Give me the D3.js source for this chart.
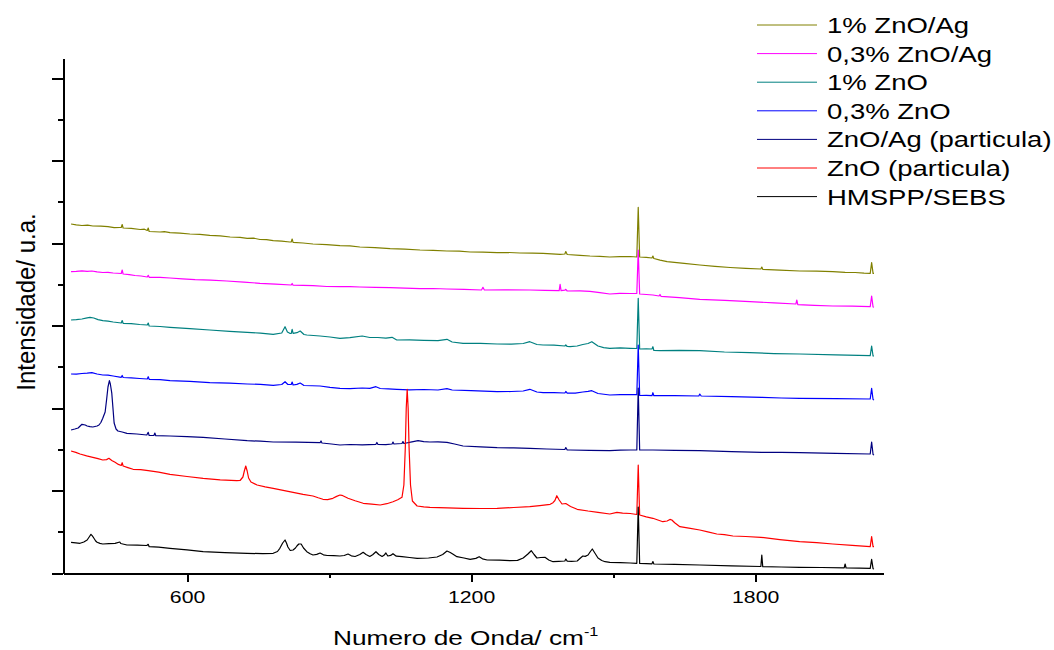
<!DOCTYPE html>
<html>
<head>
<meta charset="utf-8">
<script src="https://cdn.jsdelivr.net/npm/d3@7"></script>
<style>
    body { margin: 0; background: #fff; }
    svg { display: block; }
    .axis path, .axis line { stroke: #000; stroke-width: 2; shape-rendering: crispEdges; }
    .axis text { font-family: "Liberation Sans", Arial, sans-serif; font-size: 17px; fill: #000; }
    .spectrum { fill: none; stroke-width: 1.2; stroke-linejoin: round; }
    .label { font-family: "Liberation Sans", Arial, sans-serif; font-size: 22px; fill: #000; }
</style>
</head>
<body>
<svg id="chart" width="1054" height="650"></svg>
<script>
// Raman spectra, [wavenumber cm-1, intensity a.u.]
var olive = [[355,349],[366,348.2],[378,347.5],[390,347.8],[401,347],[418,346.8],[433,346.3],[446,345.4],[458,345.5],[461,345.5],[463,348.5],[465,345],[482,344.6],[501,343.5],[510,343.8],[516,342.5],[518,345],[520,341.5],
    [543,341],[552,341.4],[564,340.3],[585,339.8],[606,339],[627,338.6],[648,337.7],[670,337.2],[691,336],[712,335.6],[727,334.7],[740,334.9],[754,333.5],[768,333.3],[782,332.3],[800,331.8],[817,331],[820,331],[822,334],[824,330.7],
    [845,330],[866,329],[895,328.4],[923,327.3],[944,327.1],[965,326],[997,325.4],[1029,324.3],[1060,323.8],[1092,323],[1120,322.7],[1149,322],[1175,321.8],[1198,321],[1225,320.9],[1255,320.3],[1280,320.5],[1303,320],[1330,319.9],
    [1352,319.7],[1370,319.2],[1388,318.7],[1398,319],[1400,321.5],[1403,318.5],[1430,317.6],[1451,317],[1472,316.7],[1493,316],[1514,316.3],[1536,316.5],[1550,316],[1553,365.7],[1556,316],[1570,315.6],[1582,315],[1584,317],[1586,314.5],
    [1599,312.8],[1614,311.3],[1650,309.6],[1683,308],[1715,306.6],[1747,305.5],[1780,304.6],[1812,304],[1814,306],[1816,303.7],[1852,302.8],[1894,302],[1930,301.8],[1964,301.3],[1990,300.6],[2011,300.5],[2030,299.9],[2043,299.7],[2046,310.3],[2049,299.7],[2051,299.7]];

var magenta = [[355,301.3],[366,301.6],[378,302.2],[389,301.7],[399,302],[410,301.2],[422,300.5],[433,300.6],[444,300],[461,299.5],[463,303],[465,299],[478,298.4],[490,297.5],[503,297],[516,296],[518,297.7],[520,295.7],
    [543,295.6],[564,295],[590,294.2],[617,293.3],[650,292.8],[684,292],[720,290.9],[754,289.7],[787,288.9],[820,288],[822,289.5],[824,287.8],[845,287.7],[866,287.3],[895,286.5],[923,286.3],[944,286.4],[965,286],
    [997,285.6],[1029,285.3],[1060,284.9],[1092,284.3],[1120,284.5],[1149,284],[1185,283.6],[1222,283],[1225,285.7],[1228,283],[1270,283.2],[1324,283],[1356,282.6],[1386,282.3],[1388,288.7],[1390,282.3],[1398,282.8],[1400,283.7],[1403,282],
    [1430,282.1],[1451,281.7],[1472,280.3],[1493,279],[1514,279.7],[1536,279.5],[1550,279.5],[1553,323],[1556,279],[1584,278],[1597,277],[1599,278.5],[1601,276.7],[1640,275.4],[1683,273.7],[1736,272.6],[1789,271.3],[1840,270.2],
    [1886,269],[1888,273],[1890,268.3],[1925,267.6],[1964,267],[2005,266.8],[2043,266.3],[2046,277],[2049,266],[2051,265.7]];

var teal = [[355,253],[366,253.4],[378,254],[389,255.2],[395,255.7],[403,255],[412,253.4],[422,252.3],[433,251.8],[444,251],[461,250],[463,252.5],[465,249.7],[482,249.3],[500,248.5],[516,248],[518,250],[520,247],
    [543,246.5],[564,245.7],[606,244.4],[648,243],[690,241.6],[727,240.7],[755,239.8],[782,238.7],[800,240],[807,246.3],[812,241],[817,239.7],[820,239.5],[822,243.7],[824,239.7],[832,240.3],[839,242],[847,238.5],[853,238],
    [881,237],[902,236],[923,234.7],[944,235.3],[970,237],[986,235.5],[1003,235.5],[1020,234.8],[1033,235.7],[1043,233],[1070,233.2],[1100,232.7],[1130,232.3],[1149,233.7],[1160,231],[1183,229.7],[1220,229.6],[1255,229],
    [1285,228.9],[1310,229.5],[1324,231.3],[1339,228.5],[1352,228],[1375,227.8],[1398,227],[1400,228],[1403,226.5],[1409,226.3],[1424,227],[1436,228.5],[1447,229.5],[1455,231.3],[1468,227],[1480,225.4],[1493,224.7],
    [1515,225.1],[1536,224.7],[1550,224.5],[1553,274.7],[1556,224],[1570,224.2],[1582,224],[1584,226.3],[1586,222.5],[1599,222.3],[1640,222.6],[1683,222.3],[1735,221],[1789,220.3],[1840,219.4],[1894,219],[1970,218.2],
    [2043,217.3],[2046,227],[2049,217],[2051,217]];

var blue = [[355,199],[366,198.8],[378,199.5],[389,199.8],[399,200.3],[410,199],[422,198],[433,197.8],[444,197],[461,195.7],[463,197.5],[465,195.5],[482,195.2],[500,194.5],[516,194],[518,196.3],[520,193.7],
    [543,193.3],[564,192.3],[606,191.6],[648,190.3],[690,189.8],[727,189],[755,188.6],[782,187.7],[800,188.5],[807,191.3],[813,188.5],[820,188.5],[822,191],[824,188],[832,188.6],[839,190],[847,187.5],[881,187],
    [902,185.6],[923,184.7],[944,184.3],[970,185],[986,184.6],[999,186.3],[1008,184.5],[1025,184.2],[1043,183.7],[1070,183.1],[1100,183.5],[1130,183],[1149,184.3],[1160,183],[1200,182.3],[1255,181.3],[1285,181.5],
    [1310,182],[1324,183.7],[1339,181],[1352,180.3],[1375,180.4],[1398,180],[1400,181.5],[1403,179.8],[1420,179.8],[1436,181],[1447,181.7],[1455,182.3],[1468,179.5],[1493,178],[1515,178.4],[1536,178.5],[1550,178.3],
    [1553,228],[1556,177.5],[1570,177.7],[1582,177.3],[1584,180.3],[1586,177.3],[1630,177.4],[1681,177],[1683,179],[1686,177],[1750,176.3],[1814,175.7],[1855,175],[1894,174.7],[1970,174.4],[2043,174],[2046,184.7],
    [2049,173.5],[2051,173]];

var navy = [[355,143],[363,144],[370,145],[378,148.7],[385,148],[389,147],[395,146.3],[401,146],[410,147],[414,148],[418,150.5],[422,154.7],[427,161],[430,173],[433,186],[436,192.3],[438,189],[441,180],[444,162],
    [446,150],[450,144],[454,142],[463,141],[473,139.7],[494,139],[515,138],[518,140.7],[520,137.5],[530,137.5],[532,140],[534,137.3],[564,137],[600,136.4],[634,135.7],[680,134],[727,132.3],[755,131.8],[782,131],
    [830,130.8],[881,130.3],[883,132],[885,130],[905,129],[923,128],[944,128.5],[970,128.2],[999,128.7],[1001,130.5],[1003,128.7],[1020,128.4],[1033,129],[1035,131],[1037,129],[1054,129.5],[1056,131.5],[1058,129.5],
    [1075,131.2],[1088,132.3],[1100,131.4],[1113,131],[1130,131.1],[1149,130.7],[1165,129],[1183,127],[1220,126.2],[1255,125.3],[1290,125.1],[1324,124.7],[1360,124],[1398,123.5],[1400,125.5],[1403,123],[1409,123],
    [1450,122.6],[1493,122.3],[1515,122.8],[1536,123],[1550,123],[1553,185],[1556,123],[1584,123],[1630,122.6],[1683,122.3],[1750,121.4],[1814,120.7],[1855,120.6],[1894,120.3],[1970,119.6],[2043,119],[2046,131],
    [2049,118.5],[2051,118]];

var red = [[355,122],[365,120.6],[374,119],[388,117.2],[401,115.7],[412,114.4],[422,113],[430,113.4],[435,114.7],[441,112.5],[448,110.7],[455,108.6],[461,107.5],[463,110.3],[465,107],[475,105.4],[486,103.7],[502,103.3],
    [518,102.3],[540,100.8],[564,98.7],[600,96.5],[634,94.7],[670,93.2],[705,92.3],[712,92.5],[718,96],[721,102],[724,107],[727,102],[730,95],[735,91],[748,88],[765,86.2],[782,84.7],[803,82.6],[824,80.7],[845,78.6],
    [866,77],[877,75.2],[887,73.7],[897,73.4],[908,74.7],[916,76.6],[923,78],[927,77.7],[940,74.8],[955,72.3],[972,69.7],[990,68.8],[1008,68],[1022,69.3],[1035,71.3],[1045,73.2],[1054,75.7],[1058,88],[1061,125],
    [1063,165],[1065,183.7],[1067,165],[1069,125],[1072,88],[1076,72],[1086,67],[1100,66.2],[1113,65.7],[1150,65.2],[1183,64.7],[1220,64.5],[1255,64.7],[1290,65.5],[1324,66.3],[1345,67.4],[1367,68.7],[1373,70.3],
    [1377,72.5],[1381,77.3],[1386,73],[1392,69],[1400,69.5],[1410,66.5],[1424,63.7],[1447,62],[1468,60.7],[1493,59],[1508,60.7],[1520,59.8],[1536,59.5],[1550,58.5],[1553,108],[1556,58],[1570,56.2],[1584,54.7],
    [1605,51.3],[1614,52],[1620,53.6],[1624,53],[1630,50.3],[1641,46.3],[1660,44.8],[1683,43],[1700,41.2],[1719,39],[1735,38.3],[1753,37],[1780,36.5],[1812,35.7],[1852,33.4],[1894,31.3],[1930,30.3],[1964,29],
    [2005,27.6],[2043,26.3],[2046,36.3],[2049,26.3],[2051,26.3]];

var black = [[355,30.7],[365,30.2],[374,29.7],[382,31],[389,33],[394,36.5],[397,38.7],[400,37.2],[403,35],[407,32],[410,30.7],[416,29.6],[422,29],[435,29.4],[448,29.7],[458,31],[460,29.5],[473,28],[495,27.8],
    [515,27.5],[518,28.7],[520,26.3],[540,25.8],[564,24.7],[600,23.1],[634,21.3],[680,20.4],[727,19.7],[760,19.3],[782,19.7],[791,21.5],[796,24.7],[802,30],[807,33],[810,30],[813,26],[818,22.5],[824,23],[829,25],
    [832,27],[836,29],[841,29],[846,25],[853,21.3],[860,19.2],[866,18],[874,18.6],[881,20],[888,18.2],[896,17.5],[910,17.3],[923,17],[932,17.5],[940,19],[947,17.2],[955,16.5],[965,18.5],[972,20.7],[978,18.5],
    [986,16.5],[992,18.3],[999,21.3],[1005,18.5],[1012,16.5],[1016,17.7],[1020,20],[1024,17],[1030,17.6],[1035,19.3],[1042,16.8],[1054,16.3],[1070,15.5],[1086,14.7],[1110,15],[1128,16],[1140,18.5],[1149,22],
    [1156,20.5],[1162,18.8],[1170,16.3],[1185,15],[1198,13.7],[1210,14.6],[1217,16.3],[1224,14.2],[1234,13],[1260,12.8],[1282,12.3],[1298,12.6],[1310,15],[1320,19],[1327,22.3],[1333,18.5],[1339,15],[1347,15.5],
    [1356,15.7],[1364,13],[1373,11.3],[1385,11.6],[1398,12],[1400,14],[1403,11.8],[1412,11.6],[1424,12],[1431,15],[1436,17],[1441,16.6],[1447,18],[1452,21.5],[1456,24],[1462,19.5],[1468,15],[1476,12.5],[1483,11.3],
    [1493,10.7],[1515,10.3],[1536,10],[1550,9.7],[1553,66],[1556,9.5],[1570,9.4],[1582,9.2],[1584,11.5],[1586,9],[1630,8.6],[1683,8],[1750,7.1],[1812,6.5],[1814,18],[1816,6.3],[1855,6],[1894,5.7],[1940,5.5],
    [1988,5.2],[1990,9],[1992,5],[2020,4.9],[2043,4.7],[2046,13.7],[2049,4.3],[2051,4]];

var seriesNames = ['1% ZnO/Ag', '0,3% ZnO/Ag', '1% ZnO', '0,3% ZnO', 'ZnO/Ag (particula)', 'ZnO (particula)', 'HMSPP/SEBS'];
var seriesColors = ['#808000', '#ff00ff', '#008080', '#0000ff', '#000080', '#ff0000', '#000000'];
var seriesData = [olive, magenta, teal, blue, navy, red, black];

var xMajorTicks = [600, 1200, 1800];
var xMinorTicks = [900, 1500];
var yMajorTicks = [0, 82.5, 165, 247.5, 330, 412.5, 495];
var yMinorTicks = [41.25, 123.75, 206.25, 288.75, 371.25, 453.75];

var xTitle = 'Numero de Onda/ cm';
var yTitle = 'Intensidade/ u.a.';

// text in the source image is stretched horizontally
var stretch = 1.25;

var svg = d3.select('#chart');

var x = d3.scaleLinear().domain([338, 2070]).range([63, 883]);
var y = d3.scaleLinear().domain([0, 515]).range([573, 58]);

// spectra
var line = d3.line()
    .x(function(d) { return x(d[0]); })
    .y(function(d) { return y(d[1]); });

svg.append('g').selectAll('path.spectrum')
    .data(seriesData)
    .enter()
    .append('path')
    .classed('spectrum', true)
    .attr('stroke', function(d, i) { return seriesColors[i]; })
    .attr('d', line);

// axes
var xAxis = svg.append('g')
    .classed('axis', true)
    .attr('transform', 'translate(0,573)')
    .call(d3.axisBottom(x).tickValues(xMajorTicks).tickSize(9).tickSizeOuter(0).tickFormat(d3.format('d')));
xAxis.selectAll('text')
    .attr('y', 30)
    .attr('dy', null)
    .attr('transform', 'scale(' + stretch + ',1)');
svg.append('g')
    .classed('axis', true)
    .attr('transform', 'translate(0,573)')
    .call(d3.axisBottom(x).tickValues(xMinorTicks).tickSize(5).tickSizeOuter(0).tickFormat(''))
    .select('.domain').remove();

svg.append('g')
    .classed('axis', true)
    .attr('transform', 'translate(63,0)')
    .call(d3.axisLeft(y).tickValues(yMajorTicks).tickSize(11).tickSizeOuter(0).tickFormat(''));
svg.append('g')
    .classed('axis', true)
    .attr('transform', 'translate(63,0)')
    .call(d3.axisLeft(y).tickValues(yMinorTicks).tickSize(5).tickSizeOuter(0).tickFormat(''))
    .select('.domain').remove();

// axis titles
var xt = svg.append('text')
    .classed('label', true)
    .style('font-size', '21px')
    .attr('transform', 'translate(333,645) scale(' + stretch + ',1)');
xt.append('tspan').text(xTitle);
xt.append('tspan').attr('dy', -9).style('font-size', '13px').text('-1');

svg.append('text')
    .classed('label', true)
    .style('font-size', '24px')
    .attr('text-anchor', 'middle')
    .attr('transform', 'translate(35,302) scale(1.1,1) rotate(-90)')
    .text(yTitle);

// legend
var legend = svg.append('g').attr('transform', 'translate(757,25)');
var rows = legend.selectAll('g')
    .data(seriesNames)
    .enter()
    .append('g')
    .attr('transform', function(d, i) { return 'translate(0,' + (i * 28.6) + ')'; });
rows.append('line')
    .attr('x1', 0).attr('x2', 60)
    .attr('stroke', function(d, i) { return seriesColors[i]; })
    .attr('stroke-width', 1);
rows.append('text')
    .classed('label', true)
    .attr('transform', 'translate(70,8) scale(' + stretch + ',1)')
    .text(function(d) { return d; });
</script>
</body>
</html>
